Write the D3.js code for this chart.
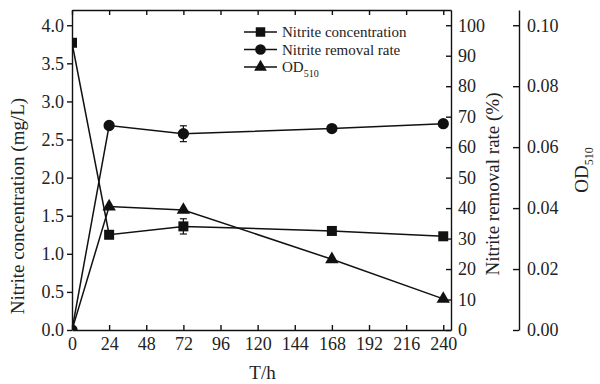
<!DOCTYPE html>
<html>
<head>
<meta charset="utf-8">
<script src="https://cdn.jsdelivr.net/npm/d3@7"></script>
<style>
  body { margin: 0; background: #fff; }
  svg { display: block; }
  svg text { font-family: "Liberation Serif", "Times New Roman", Times, serif; }
</style>
</head>
<body>
<svg id="chart" width="600" height="384"></svg>
<script>
// Sampling times (h)
const hours = [0, 24, 72, 168, 240];
// Nitrite concentration (mg/L) with standard deviation
const nitriteConc = [3.77, 1.25, 1.36, 1.30, 1.23];
const nitriteConcErr = [0.03, 0.02, 0.10, 0.04, 0.02];
// Nitrite removal rate (%) with standard deviation
const removalRate = [0, 67.1, 64.4, 66.1, 67.7];
const removalRateErr = [0, 0.6, 2.6, 1.0, 0.6];
// Optical density at 510 nm
const od510 = [0, 0.0405, 0.0394, 0.0232, 0.0102];

// Tick values
const xTicks = [0, 24, 48, 72, 96, 120, 144, 168, 192, 216, 240];
const concTicks = [0, 0.5, 1.0, 1.5, 2.0, 2.5, 3.0, 3.5, 4.0];
const rateTicks = [0, 10, 20, 30, 40, 50, 60, 70, 80, 90, 100];
const odTicks = [0, 0.02, 0.04, 0.06, 0.08, 0.10];

// Legend entries
const legendLabels = ["Nitrite concentration", "Nitrite removal rate", "OD"];

const svg = d3.select("#chart");

const plotLeft = 72, plotRight = 451, plotTop = 10, plotBottom = 330;
const x = d3.scaleLinear().domain([0, 245]).range([plotLeft, plotRight]);
const yConc = d3.scaleLinear().domain([0, 4.2]).range([plotBottom, plotTop]);
const yRate = d3.scaleLinear().domain([0, 105]).range([plotBottom, plotTop]);
const yOD = d3.scaleLinear().domain([0, 0.105]).range([plotBottom, plotTop]);

const textColor = "#222";
const lineColor = "#111";

function styleAxis(g, size) {
  g.attr("font-family", null).attr("font-size", size);
  g.selectAll("path, line").attr("stroke", lineColor).attr("stroke-width", 1.4);
  g.selectAll("text").attr("fill", textColor);
}

// Left axis (concentration)
svg.append("g")
  .attr("transform", `translate(${plotLeft},0)`)
  .call(d3.axisLeft(yConc).tickValues(concTicks).tickFormat(d3.format(".1f"))
        .tickSizeInner(5).tickSizeOuter(0).tickPadding(3))
  .call(g => styleAxis(g, 18));

// Bottom axis (time)
svg.append("g")
  .attr("transform", `translate(0,${plotBottom})`)
  .call(d3.axisBottom(x).tickValues(xTicks).tickFormat(d3.format("d"))
        .tickSizeInner(-5).tickSizeOuter(0).tickPadding(7))
  .call(g => styleAxis(g, 18));

// Top frame with inward ticks
svg.append("g")
  .attr("transform", `translate(0,${plotTop})`)
  .call(d3.axisTop(x).tickValues(xTicks).tickFormat("")
        .tickSizeInner(-5).tickSizeOuter(0))
  .call(g => styleAxis(g, 18));

// Right axis (removal rate)
svg.append("g")
  .attr("transform", `translate(${plotRight},0)`)
  .call(d3.axisRight(yRate).tickValues(rateTicks).tickFormat(d3.format("d"))
        .tickSizeInner(-5).tickSizeOuter(0).tickPadding(7))
  .call(g => styleAxis(g, 18));

// Offset axis (OD510)
const odX = 519;
svg.append("g")
  .attr("transform", `translate(${odX},0)`)
  .call(d3.axisRight(yOD).tickValues(odTicks).tickFormat(d3.format(".2f"))
        .tickSizeInner(-6).tickSizeOuter(0).tickPadding(8))
  .call(g => styleAxis(g, 18));

// Axis titles
svg.append("text")
  .attr("transform", `translate(24,${(plotTop + plotBottom) / 2 + 36}) rotate(-90)`)
  .attr("text-anchor", "middle")
  .attr("font-size", 19).attr("fill", textColor)
  .text("Nitrite concentration (mg/L)");

svg.append("text")
  .attr("transform", `translate(499,${(plotTop + plotBottom) / 2 + 14}) rotate(-90)`)
  .attr("text-anchor", "middle")
  .attr("font-size", 19).attr("fill", textColor)
  .text("Nitrite removal rate (%)");

const odTitle = svg.append("text")
  .attr("transform", `translate(588,${(plotTop + plotBottom) / 2}) rotate(-90)`)
  .attr("text-anchor", "middle")
  .attr("font-size", 19).attr("fill", textColor);
odTitle.append("tspan").text("OD");
odTitle.append("tspan").attr("font-size", 12).attr("dy", 5).text("510");

svg.append("text")
  .attr("x", (plotLeft + plotRight) / 2 + 1).attr("y", 379)
  .attr("text-anchor", "middle")
  .attr("font-size", 19).attr("fill", textColor)
  .text("T/h");

// Clip marks to the plotting area
svg.append("clipPath").attr("id", "plotClip")
  .append("rect").attr("x", plotLeft).attr("y", plotTop)
  .attr("width", plotRight - plotLeft).attr("height", plotBottom - plotTop);

const plot = svg.append("g").attr("clip-path", "url(#plotClip)");

const series = [
  { values: nitriteConc, errs: nitriteConcErr, y: yConc, symbol: d3.symbolSquare, size: 100 },
  { values: removalRate, errs: removalRateErr, y: yRate, symbol: d3.symbolCircle, size: 100 },
  { values: od510, errs: null, y: yOD, symbol: d3.symbolTriangle, size: 78 }
];

series.forEach(s => {
  const pts = hours.map((h, i) => ({ h, v: s.values[i], e: s.errs ? s.errs[i] : 0 }));
  plot.append("path")
    .datum(pts)
    .attr("fill", "none").attr("stroke", lineColor).attr("stroke-width", 1.5)
    .attr("d", d3.line().x(d => x(d.h)).y(d => s.y(d.v)));

  // Error bars
  pts.filter(d => d.e > 0).forEach(d => {
    const cx = x(d.h), y1 = s.y(d.v - d.e), y2 = s.y(d.v + d.e);
    const eb = plot.append("g").attr("stroke", lineColor).attr("stroke-width", 1.2);
    eb.append("line").attr("x1", cx).attr("x2", cx).attr("y1", y1).attr("y2", y2);
    eb.append("line").attr("x1", cx - 3.5).attr("x2", cx + 3.5).attr("y1", y1).attr("y2", y1);
    eb.append("line").attr("x1", cx - 3.5).attr("x2", cx + 3.5).attr("y1", y2).attr("y2", y2);
  });

  plot.selectAll(null).data(pts).enter().append("path")
    .attr("transform", d => `translate(${x(d.h)},${s.y(d.v)})`)
    .attr("d", d3.symbol().type(s.symbol).size(s.size))
    .attr("fill", lineColor);
});

// Legend
const legend = svg.append("g").attr("font-size", 15).attr("fill", textColor);
series.forEach((s, i) => {
  const ly = 32 + i * 17.5;
  legend.append("line").attr("x1", 244).attr("x2", 277).attr("y1", ly).attr("y2", ly)
    .attr("stroke", lineColor).attr("stroke-width", 1.5);
  legend.append("path").attr("transform", `translate(260.5,${ly})`)
    .attr("d", d3.symbol().type(s.symbol).size(s.size * 0.9)).attr("fill", lineColor);
  const t = legend.append("text").attr("x", 282).attr("y", ly + 5).text(legendLabels[i]);
  if (i === 2) t.append("tspan").attr("font-size", 10).attr("dy", 5).text("510");
});
</script>
</body>
</html>
